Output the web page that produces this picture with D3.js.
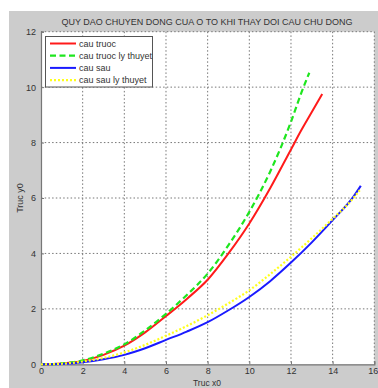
<!DOCTYPE html>
<html>
<head>
<meta charset="utf-8">
<script src="https://cdn.jsdelivr.net/npm/d3@7"></script>
<style>
  html, body { margin: 0; padding: 0; background: #ffffff; }
  svg { display: block; }
  text { font-family: Arial, "Liberation Sans", sans-serif; fill: #333; }
</style>
</head>
<body>
<script>
// Trajectory of the car: front-axle drive vs rear-axle drive, measured and theoretical
const frontX = [0, 1, 2, 3, 4, 5, 6, 7, 8, 9, 10, 11, 12, 12.5, 13, 13.5];
const frontY = [0, 0.03, 0.12, 0.34, 0.67, 1.15, 1.74, 2.36, 3.05, 4.0, 5.08, 6.35, 7.75, 8.45, 9.1, 9.75];

const frontTheoX = [0, 1, 2, 3, 4, 5, 6, 7, 8, 9, 10, 11, 11.5, 12, 12.5, 12.88];
const frontTheoY = [0, 0.03, 0.14, 0.38, 0.72, 1.22, 1.82, 2.5, 3.27, 4.3, 5.5, 6.95, 7.8, 8.75, 9.8, 10.52];

const rearX = [0, 1, 2, 3, 4, 5, 6, 7, 8, 9, 10, 11, 12, 13, 14, 15, 15.35];
const rearY = [0, 0.01, 0.07, 0.18, 0.34, 0.58, 0.88, 1.18, 1.52, 1.95, 2.43, 3.0, 3.67, 4.4, 5.2, 6.05, 6.44];

const rearTheoX = [0, 1, 2, 3, 4, 5, 6, 7, 8, 9, 10, 11, 12, 13, 14, 15, 15.3];
const rearTheoY = [0, 0.02, 0.1, 0.23, 0.43, 0.7, 1.03, 1.38, 1.77, 2.2, 2.67, 3.25, 3.88, 4.55, 5.25, 6.0, 6.28];

const seriesNames = ["cau truoc", "cau truoc ly thuyet", "cau sau", "cau sau ly thuyet"];
const xTicks = [0, 2, 4, 6, 8, 10, 12, 14, 16];
const yTicks = [0, 2, 4, 6, 8, 10, 12];

const titleText = "QUY DAO CHUYEN DONG CUA O TO KHI THAY DOI CAU CHU DONG";
const xLabel = "Truc x0";
const yLabel = "Truc y0";

const W = 378, H = 388;
const plot = { left: 41, right: 374.3, top: 31.7, bottom: 364.3 };

const svg = d3.select("body").append("svg").attr("width", W).attr("height", H);

// figure background panel
svg.append("rect").attr("x", 9).attr("y", 11).attr("width", W - 9).attr("height", H - 11)
  .attr("fill", "#cccccc");

// axes area
svg.append("rect").attr("x", plot.left).attr("y", plot.top)
  .attr("width", plot.right - plot.left).attr("height", plot.bottom - plot.top)
  .attr("fill", "#ffffff");

const x = d3.scaleLinear().domain([0, 16]).range([plot.left, plot.right]);
const y = d3.scaleLinear().domain([0, 12]).range([plot.bottom, plot.top]);

// dotted grid
const grid = svg.append("g").attr("stroke", "#777").attr("stroke-width", 1)
  .attr("stroke-dasharray", "1.5,2.2");
xTicks.filter(d => d > 0).forEach(d => {
  grid.append("line").attr("x1", x(d)).attr("x2", x(d)).attr("y1", plot.top).attr("y2", plot.bottom);
});
yTicks.filter(d => d > 0).forEach(d => {
  grid.append("line").attr("x1", plot.left).attr("x2", plot.right).attr("y1", y(d)).attr("y2", y(d));
});

// axes
const xAxis = d3.axisBottom(x).tickValues(xTicks).tickSize(-3).tickPadding(3).tickFormat(d3.format("d"));
const yAxis = d3.axisLeft(y).tickValues(yTicks).tickSize(-3).tickPadding(5).tickFormat(d3.format("d"));

const gx = svg.append("g").attr("transform", `translate(0,${plot.bottom})`).call(xAxis);
const gy = svg.append("g").attr("transform", `translate(${plot.left},0)`).call(yAxis);
[gx, gy].forEach(g => {
  g.select(".domain").attr("stroke", "#777").attr("stroke-width", 1.2);
  g.selectAll(".tick line").attr("stroke", "#777");
  g.selectAll(".tick text").attr("fill", "#333").style("font-size", "9px")
    .style("font-family", "Arial, 'Liberation Sans', sans-serif");
});
// keep the last x tick label inside the figure edge
gx.selectAll(".tick text").filter(d => d === 16).attr("text-anchor", "end").attr("x", 3.5);

// curves
const line = d3.line().x(d => x(d[0])).y(d => y(d[1])).curve(d3.curveMonotoneX);
const zip = (xs, ys) => xs.map((v, i) => [v, ys[i]]);

const series = [
  { name: seriesNames[0], pts: zip(frontX, frontY), color: "#ff1a1a", dash: null, width: 2 },
  { name: seriesNames[1], pts: zip(frontTheoX, frontTheoY), color: "#1ee61e", dash: "6,3.5", width: 2.2 },
  { name: seriesNames[2], pts: zip(rearX, rearY), color: "#1a1aff", dash: null, width: 2 },
  { name: seriesNames[3], pts: zip(rearTheoX, rearTheoY), color: "#ffff1a", dash: "2,2", width: 2.2 }
];

series.forEach(s => {
  svg.append("path").datum(s.pts)
    .attr("d", line).attr("fill", "none")
    .attr("stroke", s.color).attr("stroke-width", s.width)
    .attr("stroke-dasharray", s.dash);
});

// title and axis labels
svg.append("text").attr("x", 207).attr("y", 25).attr("text-anchor", "middle")
  .style("font-size", "9px").text(titleText);
svg.append("text").attr("x", 207).attr("y", 386).attr("text-anchor", "middle")
  .style("font-size", "8.5px").text(xLabel);
svg.append("text").attr("transform", "translate(23,198) rotate(-90)").attr("text-anchor", "middle")
  .style("font-size", "9px").text(yLabel);

// legend
const lg = svg.append("g");
lg.append("rect").attr("x", 45.5).attr("y", 36.5).attr("width", 107).attr("height", 50.5)
  .attr("fill", "#ffffff").attr("stroke", "#555").attr("stroke-width", 1);
series.forEach((s, i) => {
  const yy = 43.5 + i * 12.2;
  lg.append("line").attr("x1", 50).attr("x2", 76).attr("y1", yy).attr("y2", yy)
    .attr("stroke", s.color).attr("stroke-width", s.width).attr("stroke-dasharray", s.dash);
  lg.append("text").attr("x", 79).attr("y", yy + 3.3).style("font-size", "9px").text(s.name);
});
</script>
</body>
</html>
